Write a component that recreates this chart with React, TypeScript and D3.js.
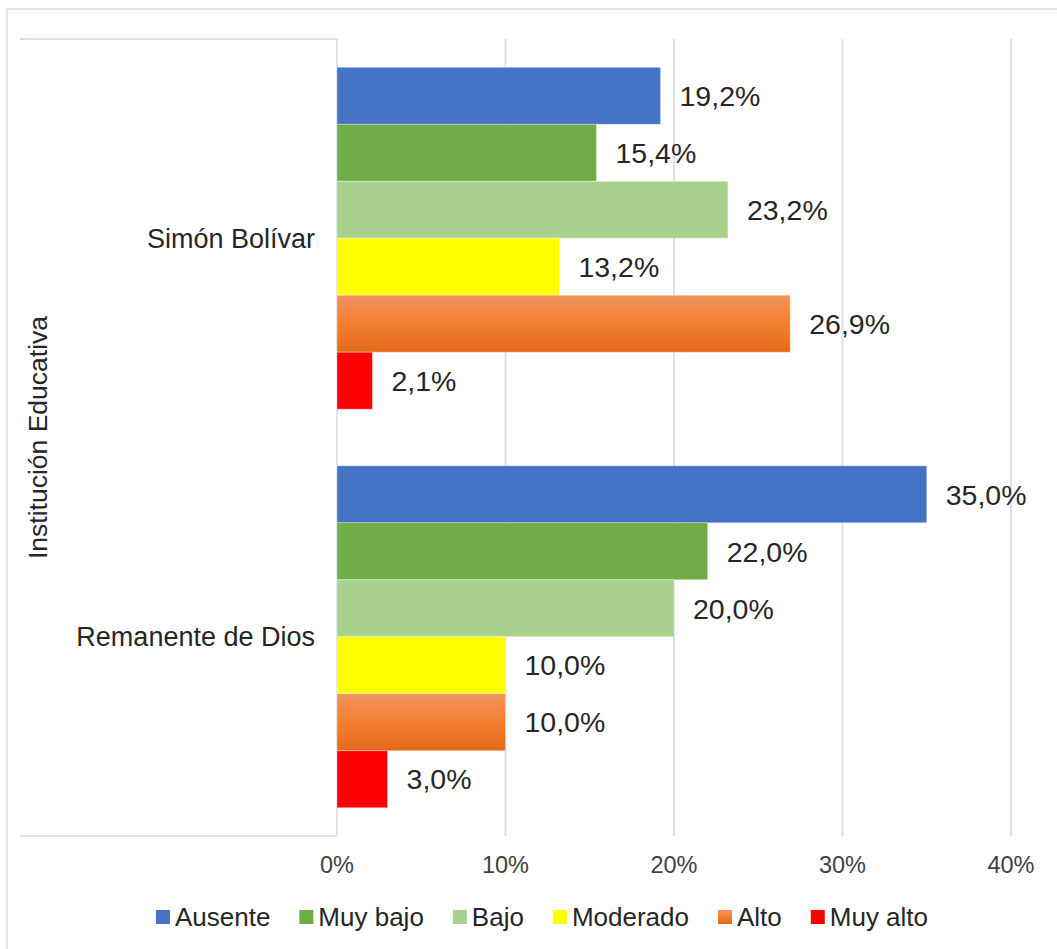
import React from "react";
import * as d3 from "d3";

const categories = ["Simón Bolívar", "Remanente de Dios"];
const seriesNames = ["Ausente", "Muy bajo", "Bajo", "Moderado", "Alto", "Muy alto"];
const simonBolivar = [19.2, 15.4, 23.2, 13.2, 26.9, 2.1];
const remanenteDeDios = [35.0, 22.0, 20.0, 10.0, 10.0, 3.0];
const tickValues = [0, 10, 20, 30, 40];
const seriesColors = ["#4472C4", "#70AD47", "#A9D18E", "#FFFF00", "url(#altoGrad)", "#FF0000"];

const W = 1057;
const H = 949;
const FONT = "'Liberation Sans', Arial, sans-serif";

function measure(text: string, size: number) {
  if (typeof document === "undefined") return text.length * size * 0.55;
  const c = document.createElement("canvas");
  const ctx = c.getContext("2d");
  if (!ctx) return text.length * size * 0.55;
  ctx.font = `${size}px 'Liberation Sans', Arial`;
  return ctx.measureText(text).width;
}

export default function App() {
  const plotLeft = 337;
  const plotRight = 1011;
  const plotTop = 39;
  const plotBottom = 836;

  const x = d3.scaleLinear().domain([0, 40]).range([plotLeft, plotRight]);
  const y0 = d3
    .scaleBand<string>()
    .domain(categories)
    .range([plotTop, plotBottom])
    .paddingInner(0.142)
    .paddingOuter(0.071);
  const y1 = d3.scaleBand<string>().domain(seriesNames).range([0, y0.bandwidth()]);

  const data = [simonBolivar, remanenteDeDios];
  const fmt = (v: number) => d3.format(".1f")(v).replace(".", ",") + "%";

  const gridColor = "#dde1e9";

  // legend layout
  const legendSize = 26;
  const sq = 14;
  const gap = 29;
  const items = seriesNames.map((n) => ({ n, w: sq + 5 + measure(n, legendSize) }));
  const total = items.reduce((a, b) => a + b.w, 0) + gap * (items.length - 1);
  let lx = 542 - total / 2;
  const legendItems = items.map((it, i) => {
    const o = { ...it, x: lx, i };
    lx += it.w + gap;
    return o;
  });

  return (
    <svg
      width={W}
      height={H}
      style={{ position: "absolute", left: 0, top: 0, background: "#fff" }}
      fontFamily={FONT}
    >
      <defs>
        <linearGradient id="altoGrad" x1="0" y1="0" x2="0" y2="1">
          <stop offset="0%" stopColor="#F1935F" />
          <stop offset="50%" stopColor="#F47F30" />
          <stop offset="100%" stopColor="#E3691A" />
        </linearGradient>
      </defs>
      <rect x={0} y={0} width={W} height={H} fill="#fff" />
      {/* outer frame */}
      <rect x={7} y={9} width={W + 20} height={H + 20} fill="none" stroke="#dfe3ea" strokeWidth={2} />

      {/* gridlines */}
      {tickValues.map((t) => (
        <line
          key={t}
          x1={x(t)}
          x2={x(t)}
          y1={plotTop}
          y2={plotBottom}
          stroke={gridColor}
          strokeWidth={2}
        />
      ))}
      {/* category separator lines */}
      <line x1={20} x2={plotLeft} y1={plotTop} y2={plotTop} stroke={gridColor} strokeWidth={2} />
      <line x1={20} x2={plotLeft} y1={plotBottom} y2={plotBottom} stroke={gridColor} strokeWidth={2} />

      {/* bars */}
      {categories.map((c, ci) => (
        <g key={c} transform={`translate(0,${y0(c)})`}>
          {seriesNames.map((s, si) => {
            const v = data[ci][si];
            const yy = y1(s) as number;
            return (
              <g key={s}>
                <rect
                  x={x(0)}
                  y={yy}
                  width={x(v) - x(0)}
                  height={y1.bandwidth()}
                  fill={seriesColors[si]}
                  stroke="#ffffff"
                  strokeOpacity={0.35}
                  strokeWidth={1}
                />
                <text
                  x={x(v) + 19}
                  y={yy + y1.bandwidth() / 2}
                  dy="0.36em"
                  fontSize={28.5}
                  fill="#262626"
                >
                  {fmt(v)}
                </text>
              </g>
            );
          })}
        </g>
      ))}

      {/* category labels */}
      {categories.map((c) => (
        <text
          key={c}
          x={315}
          y={(y0(c) as number) + y0.bandwidth() / 2}
          dy="0.36em"
          textAnchor="end"
          fontSize={27}
          fill="#262626"
        >
          {c}
        </text>
      ))}

      {/* x tick labels */}
      {tickValues.map((t) => (
        <text key={t} x={x(t)} y={873} textAnchor="middle" fontSize={23.5} fill="#404040">
          {t}%
        </text>
      ))}

      {/* y axis title */}
      <text
        transform={`translate(47,${(plotTop + plotBottom) / 2}) rotate(-90)`}
        textAnchor="middle"
        fontSize={26.5}
        fill="#262626"
      >
        Institución Educativa
      </text>

      {/* legend */}
      {legendItems.map((it) => (
        <g key={it.n}>
          <rect x={it.x} y={910} width={sq} height={sq} fill={seriesColors[it.i]} />
          <text x={it.x + sq + 5} y={926} fontSize={legendSize} fill="#262626">
            {it.n}
          </text>
        </g>
      ))}
    </svg>
  );
}
